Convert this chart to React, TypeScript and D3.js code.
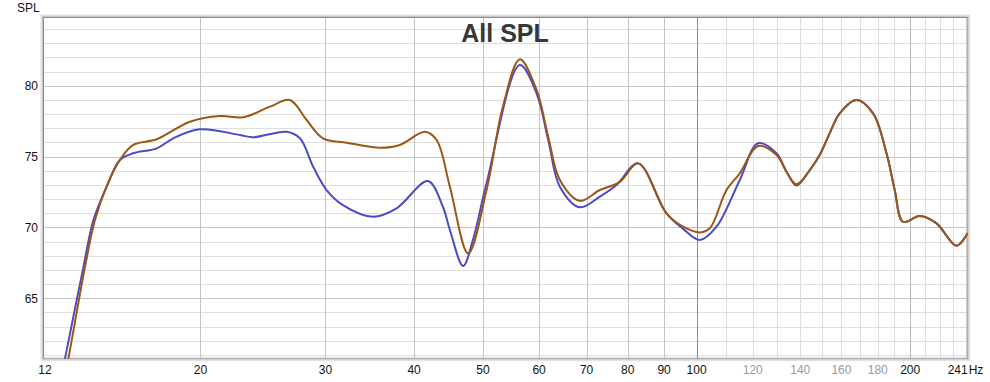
import React from "react";
import * as d3 from "d3";

const brownFreq = [12.85, 13.03, 13.75, 14.2, 14.75, 15.4, 16.08, 17.35, 19.33, 21.31, 22.96, 25.06, 26.73, 28.22, 29.76, 32.13, 35.8, 38.2, 41.42, 43.03, 44.92, 47.67, 50.6, 53.35, 56.37, 59.51, 61.8, 64.18, 68.48, 73.07, 77.97, 82.73, 90.71, 95.73, 101.06, 104.4, 110.2, 115.06, 122.09, 129.6, 133.9, 138.3, 144.4, 149.1, 154, 159.1, 168, 177.3, 185.2, 190.2, 195.4, 206.3, 217.8, 232.4, 241];
const brownSpl = [59.3, 60.76, 67.2, 70.5, 72.9, 74.76, 75.82, 76.22, 77.46, 77.86, 77.77, 78.52, 78.99, 77.58, 76.29, 75.98, 75.62, 75.82, 76.75, 76.17, 72.87, 68.17, 72.64, 78.52, 81.86, 79.7, 76.4, 73.35, 71.88, 72.64, 73.22, 74.52, 70.99, 70.05, 69.65, 69.94, 72.64, 73.82, 75.74, 75.11, 73.93, 73.04, 74.05, 75.11, 76.64, 78.05, 78.99, 78.05, 75.23, 72.64, 70.4, 70.8, 70.29, 68.71, 69.6];

const blueFreq = [12.72, 12.89, 13.68, 14.13, 14.75, 15.4, 16.08, 17.35, 18.31, 19.97, 22.73, 23.71, 26.45, 27.62, 28.83, 30.11, 31.75, 35.0, 37.79, 41.83, 43.91, 44.92, 46.9, 48.4, 50.6, 56.37, 59.51, 61.8, 64.18, 68.48, 73.07, 77.14, 82.73, 90.71, 95.73, 101.06, 106.68, 115.06, 122.09, 129.6, 133.9, 138.3, 144.4, 149.1, 154, 159.1, 168, 177.3, 185.2, 190.2, 195.4, 206.3, 217.8, 232.4, 241];
const blueSpl = [59.3, 60.76, 67.2, 70.5, 72.87, 74.76, 75.23, 75.58, 76.29, 76.92, 76.52, 76.36, 76.75, 76.29, 74.28, 72.64, 71.58, 70.76, 71.35, 73.27, 71.46, 69.82, 67.28, 69.11, 73.13, 81.46, 79.46, 76.17, 72.87, 71.42, 72.17, 72.99, 74.52, 70.99, 69.9, 69.11, 70.05, 73.35, 75.94, 75.23, 73.93, 72.95, 74.05, 75.11, 76.64, 78.05, 78.99, 78.05, 75.23, 72.64, 70.4, 70.8, 70.29, 68.71, 69.6];

const xTickValues = [12, 20, 30, 40, 50, 60, 70, 80, 90, 100, 120, 140, 160, 180, 200];
const xTickLabels = ["12", "20", "30", "40", "50", "60", "70", "80", "90", "100", "120", "140", "160", "180", "200"];
const xFadedTicks = [120, 140, 160, 180];
const yTickValues = [65, 70, 75, 80];
const endLabel = "241";
const unitLabel = "Hz";
const yTitle = "SPL";
const chartTitle = "All SPL";

const L = 43, R = 967.7, T = 17, B = 358.7;
const FONT = "'Liberation Sans', Arial, sans-serif";

export default function App() {
  const x = d3.scaleLog().domain([12, 241]).range([L, R]);
  const pxPerDb = (298.3 - 85.7) / 15;
  const dbTop = 80 + (85.7 - T) / pxPerDb;
  const dbBot = 65 - (B - 298.3) / pxPerDb;
  const y = d3.scaleLinear().domain([dbBot, dbTop]).range([B, T]);

  const line = d3.line<[number, number]>()
    .x(d => x(d[0]))
    .y(d => y(d[1]))
    .curve(d3.curveCatmullRom.alpha(0.5));

  const brown = brownFreq.map((f, i) => [f, brownSpl[i]] as [number, number]);
  const blue = blueFreq.map((f, i) => [f, blueSpl[i]] as [number, number]);

  const hLines = d3.range(Math.ceil(dbBot), Math.floor(dbTop) + 1);
  const vLines: number[] = [];
  for (let f = 20; f <= 240; f += 10) vLines.push(f);

  const vColor = (f: number) => {
    if (f === 100) return "#8a8a8a";
    if (f === 200) return "#b8b8b8";
    if (f < 100) return "#c4c4c4";
    return "#dedede";
  };

  return (
    <svg width={990} height={382} style={{ position: "absolute", left: 0, top: 0, background: "#fff" }}>
      <defs>
        <clipPath id="plotClip">
          <rect x={L} y={T} width={R - L} height={B - T} />
        </clipPath>
      </defs>
      {/* frame shadow */}
      <rect x={L - 2.5} y={T - 2.5} width={R - L + 5} height={B - T + 5} fill="#e2e2e2" />
      <rect x={L - 1} y={T - 1} width={R - L + 2} height={B - T + 2} fill="#c8c8c8" />
      <rect x={L} y={T} width={R - L} height={B - T} fill="#fff" />
      {/* horizontal grid */}
      {hLines.map(v => (
        <line key={"h" + v} x1={L} x2={R} y1={Math.round(y(v)) + 0.5} y2={Math.round(y(v)) + 0.5}
          stroke={v % 5 === 0 ? "#c4c4c4" : "#dedede"} strokeWidth={1} />
      ))}
      {/* vertical grid */}
      {vLines.map(f => (
        <line key={"v" + f} y1={T} y2={B} x1={Math.round(x(f)) + 0.5} x2={Math.round(x(f)) + 0.5}
          stroke={vColor(f)} strokeWidth={1} />
      ))}
      {/* border */}
      <line x1={L} x2={R} y1={T + 0.5} y2={T + 0.5} stroke="#8c8c8c" />
      <line x1={L + 0.5} x2={L + 0.5} y1={T} y2={B} stroke="#8c8c8c" />
      <line x1={L} x2={R} y1={B - 0.5} y2={B - 0.5} stroke="#9a9a9a" />
      <line x1={R - 0.5} x2={R - 0.5} y1={T} y2={B} stroke="#9a9a9a" />

      <text x={505} y={41.5} textAnchor="middle" fontFamily={FONT} fontWeight="bold" fontSize={25} fill="#383838">
        {chartTitle}
      </text>

      <g clipPath="url(#plotClip)">
        <path d={line(blue) || ""} fill="none" stroke="#4b4bc6" strokeWidth={2} />
        <path d={line(brown) || ""} fill="none" stroke="#9b5713" strokeWidth={2} />
      </g>

      {/* y axis labels */}
      <text x={17} y={12} fontFamily={FONT} fontSize={12} fill="#111">{yTitle}</text>
      {yTickValues.map(v => (
        <text key={"y" + v} x={38} y={y(v) + 4.5} textAnchor="end" fontFamily={FONT} fontSize={12} fill="#111">
          {v}
        </text>
      ))}
      {/* x axis labels */}
      {xTickValues.map((f, i) => (
        <text key={"x" + f} x={x(f) + (f === 12 ? 2 : 0)} y={374} textAnchor="middle" fontFamily={FONT} fontSize={12}
          fill={xFadedTicks.includes(f) ? "#9a9a9a" : "#111"}>
          {xTickLabels[i]}
        </text>
      ))}
      <text x={R} y={374} textAnchor="end" fontFamily={FONT} fontSize={12} fill="#111">{endLabel}</text>
      <text x={R + 1} y={374} textAnchor="start" fontFamily={FONT} fontSize={12} fill="#111">{unitLabel}</text>
    </svg>
  );
}
